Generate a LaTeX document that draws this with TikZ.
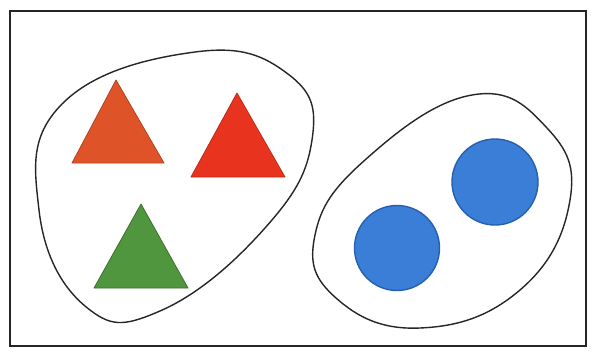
\documentclass[tikz,border=0pt]{standalone}
\usetikzlibrary{shapes.geometric}
\definecolor{triorange}{RGB}{222,84,40}
\definecolor{trired}{RGB}{232,52,30}
\definecolor{trigreen}{RGB}{80,150,62}
\definecolor{dotblue}{RGB}{58,126,215}
\definecolor{dotedge}{RGB}{40,95,175}
\tikzset{
  frame/.style={draw=black!85, line width=2.2pt},
  blob/.style={draw=black!85, line width=1.4pt},
  tri/.style={line width=0.8pt, line join=round},
  dot/.style={fill=dotblue, draw=dotedge, line width=1.4pt}
}
\begin{document}
\begin{tikzpicture}[x=1pt,y=-1pt]
\useasboundingbox (0,0) rectangle (592,351);
\fill[white] (0,0) rectangle (592,351);
\draw[frame] (10,11) rectangle (586,346);
% left blob
\draw[blob] plot[smooth cycle, tension=0.75] coordinates {
 (195,52) (288,74) (312,140) (265,228) (160,311) (85,306) (39,210) (62,104)};
% right blob
\draw[blob] plot[smooth cycle, tension=0.75] coordinates {
 (472,95) (547,128) (570,200) (520,290) (420,328) (336,298) (315,235) (365,160)};
% triangles
\filldraw[tri, fill=triorange, draw=triorange!80!black] (116,80) -- (164,163) -- (72,163) -- cycle;
\filldraw[tri, fill=trired, draw=trired!80!black] (237,93) -- (285,177) -- (191,177) -- cycle;
\filldraw[tri, fill=trigreen, draw=trigreen!75!black] (141,204) -- (188,288) -- (94,288) -- cycle;
% circles
\filldraw[dot] (397,248) circle (42.5);
\filldraw[dot] (495,182) circle (43);
\end{tikzpicture}
\end{document}
